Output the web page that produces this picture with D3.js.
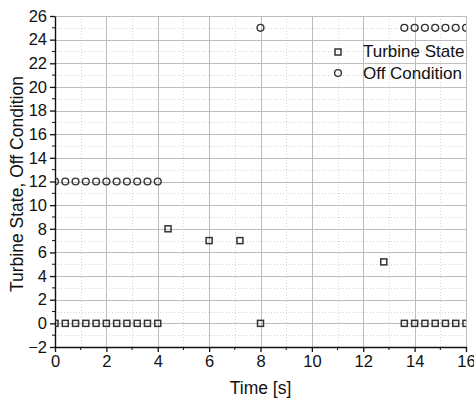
<!DOCTYPE html>
<html>
<head>
<meta charset="utf-8">
<script src="https://cdnjs.cloudflare.com/ajax/libs/d3/7.8.5/d3.min.js"></script>
<style>
body { margin: 0; background: #fff; }
svg text { font-family: "Liberation Sans", Arial, sans-serif; fill: #111; }
.grid line { shape-rendering: crispEdges; }
</style>
</head>
<body>
<div id="chart"></div>
<script>
var w = 474;
var h = 398;

// Turbine State (squares)
var turbineTime = [0, 0.4, 0.8, 1.2, 1.6, 2.0, 2.4, 2.8, 3.2, 3.6, 4.0, 4.4, 6.0, 7.2, 8.0, 12.8, 13.6, 14.0, 14.4, 14.8, 15.2, 15.6, 16.0];
var turbineState = [0, 0, 0, 0, 0, 0, 0, 0, 0, 0, 0, 8, 7, 7, 0, 5.2, 0, 0, 0, 0, 0, 0, 0];

// Off Condition (circles)
var offTime = [0, 0.4, 0.8, 1.2, 1.6, 2.0, 2.4, 2.8, 3.2, 3.6, 4.0, 8.0, 13.6, 14.0, 14.4, 14.8, 15.2, 15.6, 16.0];
var offValue = [12, 12, 12, 12, 12, 12, 12, 12, 12, 12, 12, 25, 25, 25, 25, 25, 25, 25, 25];

var xTicks = [0, 2, 4, 6, 8, 10, 12, 14, 16];
var yTicks = [-2, 0, 2, 4, 6, 8, 10, 12, 14, 16, 18, 20, 22, 24, 26];
var xMinor = [1, 3, 5, 7, 9, 11, 13, 15];
var yMinor = [-1, 1, 3, 5, 7, 9, 11, 13, 15, 17, 19, 21, 23, 25];

var legendNames = ["Turbine State", "Off Condition"];

var padL = 55, padR = 466, padT = 16, padB = 347;

//Create scale functions
var xScale = d3.scaleLinear().domain([0, 16]).range([padL, padR]);
var yScale = d3.scaleLinear().domain([-2, 26]).range([padB, padT]);

var svg = d3.select("#chart")
            .append("svg")
            .attr("width", w)
            .attr("height", h);

svg.append("clipPath")
   .attr("id", "plotclip")
   .append("rect")
   .attr("x", padL)
   .attr("y", padT - 6)
   .attr("width", padR - padL)
   .attr("height", padB - padT + 6);

//Grid lines
var grid = svg.append("g").attr("class", "grid");

grid.selectAll(".vminor")
    .data(xMinor).enter().append("line")
    .attr("x1", function(d) { return Math.round(xScale(d)) + 0.5; })
    .attr("x2", function(d) { return Math.round(xScale(d)) + 0.5; })
    .attr("y1", padT).attr("y2", padB)
    .attr("stroke", "#d4d4d4").attr("stroke-dasharray", "1,2");

grid.selectAll(".hminor")
    .data(yMinor).enter().append("line")
    .attr("y1", function(d) { return Math.round(yScale(d)) + 0.5; })
    .attr("y2", function(d) { return Math.round(yScale(d)) + 0.5; })
    .attr("x1", padL).attr("x2", padR)
    .attr("stroke", "#d4d4d4").attr("stroke-dasharray", "1,2");

grid.selectAll(".vmajor")
    .data(xTicks.slice(1)).enter().append("line")
    .attr("x1", function(d) { return Math.round(xScale(d)) + 0.5; })
    .attr("x2", function(d) { return Math.round(xScale(d)) + 0.5; })
    .attr("y1", padT).attr("y2", padB)
    .attr("stroke", "#bdbdbd");

grid.selectAll(".hmajor")
    .data(yTicks.slice(1)).enter().append("line")
    .attr("y1", function(d) { return Math.round(yScale(d)) + 0.5; })
    .attr("y2", function(d) { return Math.round(yScale(d)) + 0.5; })
    .attr("x1", padL).attr("x2", padR)
    .attr("stroke", "#bdbdbd");

//Define axes
var xAxis = d3.axisBottom(xScale).tickValues(xTicks).tickSize(5).tickPadding(3).tickSizeOuter(0);
var yAxis = d3.axisLeft(yScale).tickValues(yTicks).tickSize(5).tickPadding(3).tickSizeOuter(0);

var xg = svg.append("g")
    .attr("class", "x axis")
    .attr("transform", "translate(0," + padB + ")")
    .call(xAxis);

var yg = svg.append("g")
    .attr("class", "y axis")
    .attr("transform", "translate(" + padL + ",0)")
    .call(yAxis);

//Minor ticks
xg.selectAll(".minor")
  .data(xMinor).enter().append("line")
  .attr("x1", function(d) { return xScale(d); })
  .attr("x2", function(d) { return xScale(d); })
  .attr("y1", 0).attr("y2", 3)
  .attr("stroke", "#111");

yg.selectAll(".minor")
  .data(yMinor).enter().append("line")
  .attr("y1", function(d) { return yScale(d); })
  .attr("y2", function(d) { return yScale(d); })
  .attr("x1", 0).attr("x2", -3)
  .attr("stroke", "#111");

svg.selectAll(".axis path").attr("stroke", "#111").attr("stroke-width", 1.4);
svg.selectAll(".axis .tick line").attr("stroke", "#111").attr("stroke-width", 1.3);
svg.selectAll(".axis text").style("font-size", "16.5px").attr("fill", "#111");

//Points
var pts = svg.append("g").attr("clip-path", "url(#plotclip)");

pts.selectAll("rect")
   .data(turbineTime)
   .enter()
   .append("rect")
   .attr("x", function(d) { return xScale(d) - 3; })
   .attr("y", function(d, i) { return yScale(turbineState[i]) - 3; })
   .attr("width", 6)
   .attr("height", 6)
   .attr("fill", "none")
   .attr("stroke", "#333")
   .attr("stroke-width", 1.5);

pts.selectAll("circle")
   .data(offTime)
   .enter()
   .append("circle")
   .attr("cx", function(d) { return xScale(d); })
   .attr("cy", function(d, i) { return yScale(offValue[i]); })
   .attr("r", 3.4)
   .attr("fill", "none")
   .attr("stroke", "#333")
   .attr("stroke-width", 1.4);

//Legend
var legend = svg.append("g");
legend.append("rect")
    .attr("x", 335).attr("y", 49).attr("width", 6).attr("height", 6)
    .attr("fill", "none").attr("stroke", "#333").attr("stroke-width", 1.5);
legend.append("circle")
    .attr("cx", 338).attr("cy", 73).attr("r", 3.4)
    .attr("fill", "none").attr("stroke", "#333").attr("stroke-width", 1.4);
legend.selectAll("text")
    .data(legendNames)
    .enter()
    .append("text")
    .attr("x", 363)
    .attr("y", function(d, i) { return 57 + i * 22; })
    .style("font-size", "17px")
    .text(function(d) { return d; });

//Axis titles
svg.append("text")
   .attr("x", (padL + padR) / 2)
   .attr("y", 394)
   .attr("text-anchor", "middle")
   .style("font-size", "17.5px")
   .text("Time [s]");

svg.append("text")
   .attr("transform", "translate(23,184) rotate(-90)")
   .attr("text-anchor", "middle")
   .style("font-size", "17.5px")
   .text("Turbine State, Off Condition");
</script>
</body>
</html>
